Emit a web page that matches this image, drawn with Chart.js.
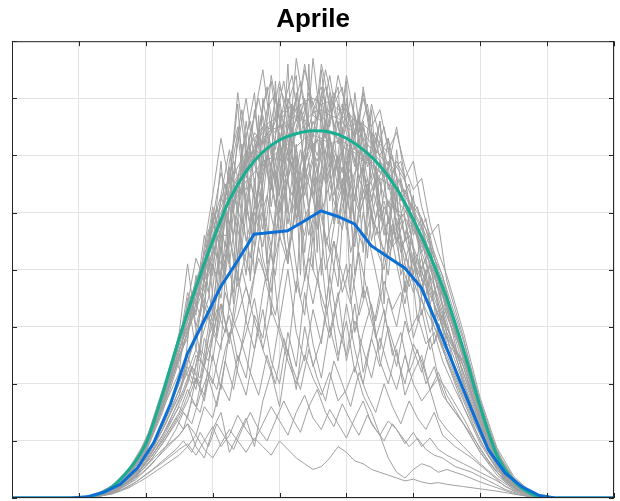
<!DOCTYPE html>
<html>
<head>
<meta charset="utf-8">
<script src="https://cdn.jsdelivr.net/npm/chart.js@4.4.1/dist/chart.umd.min.js"></script>
<style>
  html, body { margin: 0; padding: 0; background: #fff; }
  #wrap { width: 620px; height: 501px; }
</style>
</head>
<body>
<div id="wrap"><canvas id="chart" width="620" height="501"></canvas></div>
<script>
// Axis ticks (no labels shown on the original)
const xTicks = [0, 1, 2, 3, 4, 5, 6, 7, 8, 9];
const yTicks = [0, 1, 2, 3, 4, 5, 6, 7, 8];

// x positions of the first group of daily profiles
const dayX = [1.0, 1.25, 1.5, 1.75, 2.0, 2.25, 2.5,
    2.625, 2.75, 2.875, 3.0, 3.125, 3.25, 3.375, 3.5,
    3.625, 3.75, 3.875, 4.0, 4.125, 4.25, 4.375, 4.5,
    4.625, 4.75, 4.875, 5.0, 5.125, 5.25, 5.375, 5.5,
    5.625, 5.75, 5.875, 6.0, 6.125, 6.25, 6.375, 6.5,
    6.75, 7.0, 7.25, 7.5, 7.75, 8.0];

// x positions of the second group (samples fall between the first group's)
const dayX2 = [1.1, 1.35, 1.6, 1.85, 2.1, 2.3, 2.45,
    2.5625, 2.6875, 2.8125, 2.9375, 3.0625, 3.1875, 3.3125, 3.4375,
    3.5625, 3.6875, 3.8125, 3.9375, 4.0625, 4.1875, 4.3125, 4.4375,
    4.5625, 4.6875, 4.8125, 4.9375, 5.0625, 5.1875, 5.3125, 5.4375,
    5.5625, 5.6875, 5.8125, 5.9375, 6.0625, 6.1875, 6.3125, 6.4375,
    6.625, 6.875, 7.125, 7.375, 7.625, 7.9];

// Daily profiles (gray), first group
const days = [
    [0,0.04,0.17,0.44,0.88,1.7,2.6, 3.0,3.5,3.95,4.3,4.7,5.05,5.3,5.55, 5.7,5.9,5.95,6.1,6.2,6.15,6.3,6.35, 6.3,6.2,6.25,6.1,6.05,5.9,5.85,5.6, 5.5,5.2,5.05,4.7,4.45,4.1,3.7,3.35, 2.45,1.5,0.7,0.28,0.07,0],
    [0,0.06,0.22,0.52,1.0,1.9,2.85, 3.3,3.8,4.25,4.7,5.1,5.45,5.8,6.05, 6.3,6.5,6.6,6.7,6.85,6.8,6.95,7.0, 6.9,6.95,6.8,6.8,6.6,6.55,6.4,6.2, 6.05,5.8,5.55,5.2,4.9,4.5,4.1,3.65, 2.75,1.7,0.82,0.35,0.1,0],
    [0,0.05,0.2,0.48,0.95,1.8,2.75, 3.2,3.65,4.3,4.55,4.9,5.6,5.5,5.9, 6.4,6.2,6.6,7.3,6.5,6.6,7.6,6.7, 6.6,7.4,6.5,6.9,6.4,7.1,6.2,6.0, 6.3,5.6,5.3,5.0,4.7,4.3,3.9,3.5, 2.6,1.6,0.78,0.3,0.08,0],
    [0,0.04,0.16,0.42,0.85,1.65,2.55, 3.1,3.6,4.0,4.45,4.8,5.2,5.5,5.85, 6.1,6.3,6.45,6.5,6.6,6.7,6.6,6.75, 6.8,6.7,6.65,6.5,6.4,6.3,6.1,5.9, 5.7,5.5,5.1,4.9,4.5,4.2,3.8,3.3, 2.5,1.45,0.72,0.3,0.08,0],
    [0,0.04,0.15,0.4,0.8,1.5,2.4, 2.9,3.4,4.1,3.2,4.7,5.8,4.2,6.3, 7.1,5.2,6.6,4.5,6.9,7.4,5.6,6.2, 3.9,6.8,7.2,5.0,6.4,4.3,5.9,6.6, 4.8,5.4,3.6,4.9,4.2,3.4,3.8,2.9, 2.3,1.4,0.7,0.25,0.06,0],
    [0,0.03,0.14,0.38,0.82,1.55,2.2, 3.5,2.6,3.9,5.0,3.7,4.6,6.4,5.1, 4.4,7.0,6.1,5.3,7.6,4.8,5.9,7.7, 6.5,5.2,6.0,7.3,4.6,5.5,6.8,5.1, 4.4,6.1,4.9,3.9,4.6,3.7,3.1,3.3, 2.1,1.3,0.65,0.26,0.07,0],
    [0,0.05,0.19,0.46,0.92,1.7,2.9, 4.1,3.0,3.6,4.4,5.9,4.1,5.2,6.6, 5.5,4.7,5.8,6.9,5.0,6.2,4.3,5.7, 7.5,6.1,4.9,5.6,6.7,5.9,4.5,5.3, 6.3,5.0,4.6,5.3,3.8,4.1,3.4,2.7, 2.4,1.5,0.8,0.3,0.08,0],
    [0,0.04,0.17,0.43,0.86,1.6,2.5, 2.8,3.9,3.3,4.9,4.3,5.5,6.9,4.9, 6.0,6.5,5.1,6.2,5.6,7.1,6.4,5.3, 6.0,7.1,5.7,6.3,5.2,6.6,5.5,4.9, 5.8,4.7,5.2,4.4,4.0,4.4,3.6,3.1, 2.0,1.3,0.6,0.22,0.06,0],
    [0,0.05,0.2,0.5,0.95,1.75,2.7, 3.2,3.5,4.6,3.9,5.3,4.8,5.6,5.4, 6.8,5.8,7.4,6.6,5.9,6.4,7.0,6.1, 5.5,6.3,5.4,7.0,6.1,6.5,5.6,6.6, 5.4,5.9,5.6,4.6,4.9,4.0,3.7,3.4, 2.6,1.55,0.76,0.32,0.09,0],
    [0,0.02,0.1,0.28,0.55,0.95,1.4, 1.7,2.1,1.8,2.9,4.4,3.3,4.9,3.9, 5.6,4.2,3.6,5.2,4.1,6.0,3.8,4.8, 5.4,3.5,4.6,6.2,3.9,5.0,4.3,3.6, 4.9,4.1,3.4,4.3,3.5,2.9,3.3,2.6, 1.9,1.2,0.62,0.25,0.06,0],
    [0,0.04,0.16,0.42,0.88,1.6,2.6, 3.0,3.3,4.0,4.8,5.3,6.1,5.0,5.8, 4.6,6.3,5.4,7.2,6.8,5.1,6.5,6.0, 7.1,5.8,6.6,5.3,7.1,6.0,5.2,5.9, 5.1,5.6,4.5,4.8,4.3,3.9,3.5,3.0, 2.3,1.35,0.7,0.28,0.08,0],
    [0,0.03,0.13,0.34,0.68,1.2,1.8, 2.5,2.0,3.4,2.9,2.6,5.2,3.8,6.1, 3.9,5.0,3.2,6.4,4.5,3.6,6.0,4.0, 6.9,4.4,3.7,5.9,4.9,3.5,6.4,4.6, 3.9,5.3,3.6,4.2,3.2,3.9,2.8,2.5, 1.8,1.1,0.55,0.2,0.05,0],
    [0,0.05,0.2,0.48,0.96,1.78,2.75, 3.3,3.8,4.1,5.1,4.5,5.9,6.5,5.6, 6.2,6.7,6.0,5.4,6.5,7.0,5.8,6.6, 6.2,5.6,6.9,6.4,5.8,7.2,6.3,5.7, 5.9,5.3,5.4,5.0,4.3,4.6,3.9,3.2, 2.5,1.5,0.75,0.3,0.08,0],
    [0,0.03,0.12,0.3,0.62,1.1,1.7, 2.0,2.5,2.3,3.3,4.6,4.6,3.9,5.3, 6.0,5.1,4.4,5.7,6.3,4.9,5.5,4.6, 5.8,6.4,4.8,5.4,4.4,5.8,4.9,5.6, 4.3,4.9,4.1,3.6,4.0,3.4,2.9,2.4, 1.7,1.0,0.5,0.2,0.05,0],
    [0,0.05,0.21,0.5,0.98,1.85,2.8, 3.4,4.2,3.8,4.9,5.7,5.2,6.2,7.0, 5.9,6.9,7.3,6.2,7.0,6.6,7.5,6.9, 7.2,6.5,7.4,6.8,6.3,7.0,6.5,6.8, 6.1,6.4,5.8,5.4,5.6,4.8,4.3,3.9, 2.9,1.75,0.88,0.38,0.11,0],
    [0,0.04,0.19,0.47,0.93,1.75,2.7, 3.6,3.2,4.4,5.3,6.3,5.5,7.1,6.0, 6.7,7.5,6.4,7.0,6.0,7.7,6.8,6.3, 7.6,6.9,6.2,7.4,6.6,5.9,6.9,6.3, 5.8,6.5,5.6,5.9,5.1,4.6,4.8,3.8, 2.8,1.6,0.8,0.33,0.09,0],
    [0,0.04,0.16,0.41,0.83,1.58,2.45, 2.9,3.3,3.7,4.1,3.5,4.8,5.4,4.5, 5.1,5.8,6.2,5.0,5.6,6.1,5.3,5.9, 5.0,5.5,6.0,4.7,5.3,5.8,4.9,4.6, 5.2,4.5,4.9,4.1,3.7,4.1,3.3,3.0, 2.2,1.35,0.66,0.27,0.07,0],
    [0,0.03,0.14,0.36,0.72,1.3,2.0, 2.4,2.9,3.5,3.1,4.0,4.6,3.7,4.3, 5.0,4.4,5.5,4.9,4.2,5.1,4.6,5.6, 4.9,4.3,5.2,5.7,4.8,4.4,5.0,4.5, 4.2,4.7,4.3,3.8,4.2,3.6,3.2,2.8, 2.4,1.45,0.74,0.32,0.09,0],
    [0,0.03,0.12,0.34,0.7,1.2,1.8, 2.3,1.9,2.8,2.4,3.4,2.7,3.9,3.1, 2.6,3.6,4.4,3.0,2.5,3.8,3.2,4.6, 3.4,2.8,3.5,4.1,2.9,3.7,3.1,2.6, 3.5,3.0,3.8,2.8,3.3,2.6,2.9,2.4, 1.6,0.95,0.5,0.2,0.05,0],
    [0,0.03,0.1,0.3,0.6,1.0,1.5, 1.9,1.6,2.3,2.0,2.7,3.2,2.4,2.9, 3.5,2.6,2.2,3.1,4.0,2.9,2.4,3.3, 2.7,3.9,3.0,2.5,3.4,2.2,2.8,3.6, 2.9,2.3,3.1,2.6,2.2,2.8,2.1,1.9, 1.4,0.85,0.45,0.18,0.05,0],
    [0,0.02,0.1,0.32,0.65,1.1,1.6, 1.4,2.1,1.7,2.5,1.9,2.9,2.2,1.8, 2.6,3.3,2.4,2.0,2.9,2.3,3.6,2.7, 2.1,3.0,2.4,3.4,2.6,2.0,2.8,2.3, 3.0,2.5,2.0,2.7,2.4,1.9,2.2,1.8, 1.3,0.8,0.4,0.16,0.04,0],
    [0,0.04,0.18,0.45,0.9,1.7,2.6, 3.1,3.6,4.0,4.5,4.9,5.3,5.6,5.9, 6.1,6.0,5.4,6.3,4.8,5.6,4.1,3.4, 4.2,2.9,3.6,2.4,3.1,2.6,2.1,2.8, 2.3,1.9,2.5,2.0,1.7,1.9,1.4,1.2, 0.9,0.6,0.35,0.15,0.04,0],
    [0,0.02,0.08,0.25,0.5,0.8,1.1, 1.3,1.1,1.6,1.4,2.0,1.7,2.5,2.1, 3.2,2.8,3.9,4.6,4.1,5.3,5.9,6.2, 6.3,6.4,6.3,6.2,6.1,6.0,5.9,5.7, 5.6,5.4,5.1,4.8,4.5,4.2,3.8,3.4, 2.55,1.55,0.78,0.3,0.08,0],
    [0,0.02,0.08,0.2,0.4,0.62,0.85, 0.95,0.75,1.0,1.25,0.9,1.1,1.45,1.2, 1.0,1.3,1.6,1.35,1.1,1.5,1.8,1.4, 1.2,1.55,1.3,1.05,1.4,1.7,1.3,1.1, 1.35,1.2,0.95,1.15,0.9,1.05,0.85,0.75, 0.6,0.45,0.3,0.12,0.03,0],
    [0,0.02,0.07,0.18,0.35,0.55,0.75, 0.9,1.1,0.85,0.7,0.95,1.2,1.0,0.8, 1.05,0.9,0.75,1.0,0.85,0.7,0.6,0.5, 0.55,0.7,0.9,0.8,0.65,0.6,0.5,0.45, 0.4,0.35,0.3,0.33,0.28,0.25,0.27,0.24, 0.2,0.16,0.12,0.07,0.02,0],
    [0,0.03,0.12,0.35,0.72,1.25,1.9, 2.2,2.6,2.3,2.9,3.4,2.8,3.2,3.7, 3.1,2.6,3.3,2.9,2.4,2.0,2.5,2.1, 1.8,2.2,1.7,1.9,2.3,1.8,1.5,1.1, 0.7,0.45,0.35,0.5,0.6,0.55,0.45,0.5, 0.4,0.28,0.18,0.08,0.02,0],
    [0,0.02,0.1,0.28,0.55,0.85,1.1, 1.3,0.9,0.7,1.2,1.5,0.8,1.1,1.4, 0.9,1.7,2.2,1.6,2.6,1.9,3.0,2.3, 2.8,3.5,2.5,3.1,2.2,2.9,3.4,2.4, 2.0,2.6,1.8,2.2,2.5,1.9,2.1,1.7, 1.3,0.8,0.45,0.18,0.05,0]
];

// Daily profiles (gray), second group
const days2 = [
    [0.02,0.09,0.28,0.6,1.2,1.9,2.5, 3.0,3.6,3.2,4.5,5.1,4.4,6.0,6.8, 5.7,6.4,7.2,6.1,6.9,7.4,6.3,7.1, 6.6,7.5,6.8,6.2,7.0,6.4,6.9,6.0, 6.5,5.7,5.9,5.2,5.0,4.7,4.2,3.9, 3.0,2.0,1.1,0.45,0.15,0.02],
    [0.02,0.1,0.3,0.62,1.25,1.95,2.55, 2.9,3.3,4.0,3.6,4.9,5.5,5.0,6.1, 6.6,5.9,6.8,7.1,6.2,6.7,7.3,6.5, 7.0,6.3,6.9,7.2,6.1,6.6,5.8,6.3, 5.6,6.0,5.2,5.5,4.6,4.9,4.0,3.6, 2.9,1.9,1.05,0.42,0.14,0.02],
    [0.01,0.06,0.18,0.4,0.75,1.15,1.5, 1.8,2.3,2.1,3.0,4.3,3.9,5.0,4.4, 5.6,4.8,6.2,5.1,5.7,6.5,5.2,5.9, 4.7,6.1,5.3,5.8,4.9,6.3,5.0,5.5, 4.6,5.2,4.3,4.8,3.9,4.2,3.5,3.1, 2.5,1.6,0.9,0.38,0.12,0.01],
    [0.01,0.05,0.15,0.32,0.6,0.9,1.2, 1.5,1.3,1.8,2.2,1.9,2.6,3.1,2.7, 3.6,4.2,3.8,4.9,5.5,4.6,5.8,6.4, 5.7,6.6,6.0,5.4,6.2,5.6,6.1,5.5, 5.8,5.2,4.9,5.1,4.5,4.3,3.9,3.4, 2.8,1.8,1.0,0.4,0.13,0.01],
    [0.02,0.09,0.27,0.58,1.15,1.8,2.4, 2.1,3.4,2.5,4.2,2.9,5.1,3.4,6.2, 3.8,6.7,4.1,7.3,4.6,6.9,3.9,7.6, 4.3,7.0,4.8,6.5,3.6,6.1,4.2,5.8, 3.4,5.5,3.9,4.4,3.1,4.0,2.7,3.2, 2.2,1.5,0.8,0.32,0.1,0.01],
    [0.01,0.06,0.2,0.45,0.9,1.4,1.9, 2.3,2.0,2.7,3.2,2.8,3.6,3.1,4.0, 3.4,4.4,3.7,3.2,4.1,4.6,3.5,4.2, 3.8,3.3,4.5,3.9,3.4,4.3,3.6,3.1, 3.8,3.3,3.6,2.9,3.2,2.7,2.9,2.4, 1.9,1.3,0.75,0.3,0.1,0.01],
    [0.02,0.1,0.31,0.66,1.3,2.0,2.6, 3.1,3.5,3.95,4.4,4.8,5.2,5.5,5.8, 6.0,6.3,6.5,6.4,6.7,6.9,6.6,7.0, 6.8,6.6,7.1,6.7,6.5,6.6,6.3,6.1, 5.9,5.8,5.5,5.2,4.9,4.6,4.2,3.8, 3.1,2.15,1.2,0.52,0.18,0.02],
    [0.01,0.05,0.16,0.36,0.7,1.05,1.35, 1.6,2.0,2.6,2.4,3.2,4.5,3.6,4.9, 4.2,5.4,4.6,3.9,5.3,5.9,4.7,5.1, 5.8,4.4,5.0,5.6,4.3,4.9,5.5,4.4, 4.0,4.8,4.1,3.7,4.2,3.5,3.0,2.7, 2.3,1.5,0.85,0.35,0.11,0.01],
    [0.01,0.05,0.16,0.38,0.75,1.1,1.4, 1.2,1.7,1.5,2.1,1.6,2.4,1.9,2.7, 2.2,1.8,2.5,2.0,2.8,2.3,1.9,2.6, 2.1,1.7,2.4,2.0,1.6,2.2,1.8,1.5, 2.0,1.6,1.3,1.7,1.4,1.2,1.5,1.1, 0.9,0.7,0.45,0.2,0.07,0.01],
    [0.02,0.1,0.3,0.64,1.28,1.98,2.58, 3.0,3.45,3.9,4.7,4.2,5.4,5.9,5.3, 6.4,7.0,6.2,6.6,7.3,6.4,6.9,6.1, 6.7,7.2,6.5,6.9,6.2,6.7,5.9,6.4, 5.9,5.4,5.6,4.9,5.1,4.4,4.0,3.6, 2.95,2.0,1.1,0.48,0.16,0.02],
    [0.02,0.07,0.2,0.44,0.85,1.3,1.75, 2.1,2.6,3.0,3.5,4.6,4.1,5.2,5.6, 4.8,5.4,6.0,5.1,5.7,5.3,6.1,5.5, 5.0,5.8,5.2,4.7,5.5,5.0,5.4,4.6, 5.1,4.7,4.4,4.6,4.1,3.8,3.6,3.2, 2.6,1.75,0.95,0.4,0.13,0.01],
    [0.02,0.09,0.28,0.6,1.2,1.9,2.5, 3.0,3.4,3.85,4.3,4.7,5.1,5.3,5.6, 5.9,6.0,6.1,5.5,6.2,5.0,5.6,4.6, 5.2,4.0,4.5,3.6,4.1,3.2,3.7,2.8, 3.3,2.5,2.9,2.2,2.6,2.0,2.3,1.8, 1.5,1.1,0.65,0.28,0.09,0.01],
    [0.02,0.09,0.29,0.62,1.22,1.9,2.5, 2.95,3.4,3.8,4.2,3.9,4.9,5.3,4.8, 5.5,5.1,6.0,5.6,6.3,5.8,5.4,6.2, 5.9,6.4,5.7,6.1,5.5,5.9,5.4,5.7, 5.3,5.1,5.0,4.8,4.6,4.3,3.95,3.6, 2.95,2.0,1.1,0.48,0.16,0.02],
    [0.01,0.04,0.12,0.28,0.5,0.7,0.85, 1.0,0.8,1.15,0.9,1.3,1.05,0.85,1.2, 1.5,1.2,1.0,1.35,1.7,1.4,1.15,1.6, 1.9,1.5,1.25,1.65,1.35,1.1,1.45,1.2, 1.0,1.3,1.1,0.9,1.05,0.85,0.75,0.7, 0.55,0.45,0.3,0.15,0.05,0.01],
    [0.01,0.05,0.17,0.4,0.8,1.2,1.6, 1.9,2.3,2.0,2.8,3.3,2.9,3.8,4.4, 3.9,4.8,5.3,4.6,5.5,6.0,5.2,5.7, 6.3,5.5,6.0,5.3,5.8,5.1,5.6,4.9, 5.2,4.6,4.9,4.3,4.0,3.7,3.4,3.0, 2.4,1.6,0.9,0.38,0.12,0.01],
    [0.02,0.08,0.26,0.56,1.12,1.75,2.3, 2.7,3.2,3.6,4.0,4.5,5.0,4.6,5.5, 6.1,5.6,6.4,5.9,6.6,6.2,6.8,6.4, 6.0,6.5,6.1,5.7,6.2,5.6,5.2,5.6, 4.8,4.4,4.6,4.0,3.6,3.3,3.0,2.6, 2.1,1.4,0.8,0.34,0.11,0.01]
];

// Clear-sky curve (green)
const clearX = [0, 1.0, 1.25, 1.5, 1.75, 2.0, 2.25, 2.5, 2.75, 3.0, 3.25, 3.5, 3.75, 4.0, 4.25, 4.5,
    4.75, 5.0, 5.25, 5.5, 5.75, 6.0, 6.25, 6.5, 6.75, 7.0, 7.25, 7.5, 7.75, 8.0, 9];
const clearY = [0, 0, 0.05, 0.2, 0.5, 0.95, 1.82, 2.8, 3.69, 4.5, 5.22, 5.72, 6.06, 6.27, 6.38, 6.43,
    6.41, 6.3, 6.1, 5.82, 5.42, 4.88, 4.25, 3.5, 2.6, 1.6, 0.75, 0.3, 0.08, 0, 0];

// Mean profile (blue)
const meanX = [0, 0.87, 1.12, 1.37, 1.62, 1.87, 2.12, 2.37, 2.62, 2.87, 3.12, 3.37, 3.62, 3.87, 4.12,
    4.37, 4.62, 4.87, 5.12, 5.37, 5.62, 5.87, 6.12, 6.37, 6.62, 6.87, 7.12, 7.37, 7.62, 7.87, 8.12, 9];
const meanY = [0, 0, 0.02, 0.1, 0.24, 0.52, 0.97, 1.65, 2.52, 3.1, 3.7, 4.15, 4.62, 4.65, 4.68,
    4.85, 5.03, 4.93, 4.8, 4.42, 4.22, 4.03, 3.68, 3.0, 2.27, 1.55, 0.85, 0.44, 0.2, 0.05, 0, 0];

const toPoints = (xs, ys) => xs.map((x, i) => ({ x: x, y: ys[i] }));

const datasets = [
    {
        label: "Media",
        data: toPoints(meanX, meanY),
        borderColor: "#0b6fd4",
        borderWidth: 3,
        tension: 0,
        order: 0
    },
    {
        label: "Cielo sereno",
        data: toPoints(clearX, clearY),
        borderColor: "#17ae92",
        borderWidth: 3,
        cubicInterpolationMode: "monotone",
        order: 1
    }
];
const addDays = (xs, list) => list.forEach(d => {
    datasets.push({
        label: "Giorno " + (datasets.length - 1),
        data: toPoints(xs, d),
        borderColor: "#a0a0a0",
        borderWidth: 1,
        tension: 0,
        order: 2
    });
});
addDays(dayX, days);
addDays(dayX2, days2);

// Box and inward ticks, MATLAB style
const boxPlugin = {
    id: "box",
    afterDraw(c) {
        const { ctx, chartArea: a, scales } = c;
        ctx.save();
        ctx.strokeStyle = "#262626";
        ctx.lineWidth = 1;
        ctx.strokeRect(a.left + 0.5, a.top + 0.5, a.right - a.left - 1, a.bottom - a.top - 1);
        ctx.beginPath();
        xTicks.forEach(v => {
            const px = Math.round(scales.x.getPixelForValue(v)) + 0.5;
            ctx.moveTo(px, a.bottom); ctx.lineTo(px, a.bottom - 5);
            ctx.moveTo(px, a.top); ctx.lineTo(px, a.top + 5);
        });
        yTicks.forEach(v => {
            const py = Math.round(scales.y.getPixelForValue(v)) + 0.5;
            ctx.moveTo(a.left, py); ctx.lineTo(a.left + 5, py);
            ctx.moveTo(a.right, py); ctx.lineTo(a.right - 5, py);
        });
        ctx.stroke();
        ctx.restore();
    }
};

new Chart(document.getElementById("chart"), {
    type: "line",
    data: { datasets: datasets },
    options: {
        responsive: false,
        animation: false,
        devicePixelRatio: 1,
        layout: { padding: { left: 12, right: 6, top: 0, bottom: 3 } },
        elements: { point: { radius: 0 } },
        plugins: {
            legend: { display: false },
            tooltip: { enabled: false },
            title: {
                display: true,
                text: "Aprile",
                color: "#000",
                font: { family: "'Liberation Sans', Arial, sans-serif", size: 26, weight: "bold" },
                padding: { top: 4, bottom: 6 }
            }
        },
        scales: {
            x: {
                type: "linear",
                min: 0,
                max: 9,
                afterBuildTicks: s => { s.ticks = xTicks.map(v => ({ value: v })); },
                ticks: { display: false },
                grid: { color: "#e3e3e3", drawTicks: false },
                border: { display: false }
            },
            y: {
                type: "linear",
                min: 0,
                max: 8,
                afterBuildTicks: s => { s.ticks = yTicks.map(v => ({ value: v })); },
                ticks: { display: false },
                grid: { color: "#e3e3e3", drawTicks: false },
                border: { display: false }
            }
        }
    },
    plugins: [boxPlugin]
});
</script>
</body>
</html>
